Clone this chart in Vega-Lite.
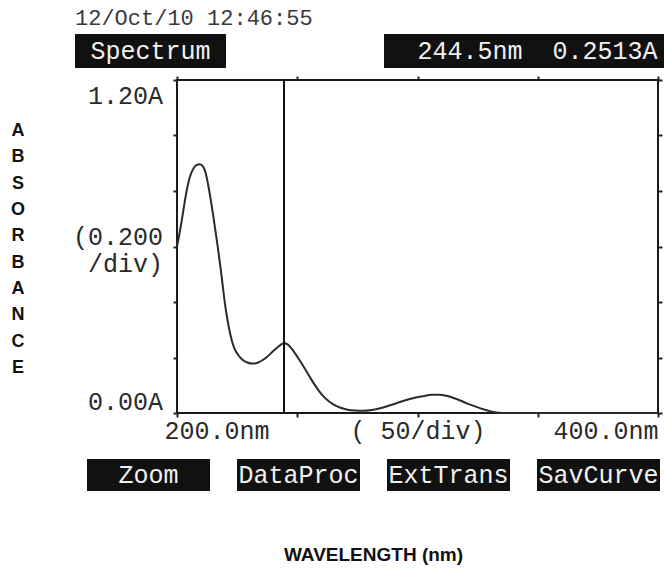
{
  "$schema": "https://vega.github.io/schema/vega-lite/v6.json",
  "background": "white",
  "padding": {"left": 8, "top": 7, "right": 0, "bottom": 0},
  "config": {"font": "Liberation Mono"},
  "datasets": {
    "spectrum": [
      {"wl": 200, "abs": 0.60}, {"wl": 201, "abs": 0.645}, {"wl": 202, "abs": 0.695}, {"wl": 203, "abs": 0.75},
      {"wl": 204, "abs": 0.80}, {"wl": 205, "abs": 0.84}, {"wl": 206, "abs": 0.866}, {"wl": 207, "abs": 0.883},
      {"wl": 208, "abs": 0.893}, {"wl": 209.5, "abs": 0.896}, {"wl": 211, "abs": 0.886}, {"wl": 212, "abs": 0.862},
      {"wl": 213, "abs": 0.82}, {"wl": 214, "abs": 0.77}, {"wl": 215, "abs": 0.715}, {"wl": 216, "abs": 0.655},
      {"wl": 217, "abs": 0.595}, {"wl": 218, "abs": 0.53}, {"wl": 219, "abs": 0.46}, {"wl": 220, "abs": 0.39},
      {"wl": 221, "abs": 0.335}, {"wl": 222, "abs": 0.29}, {"wl": 223, "abs": 0.255}, {"wl": 224, "abs": 0.23},
      {"wl": 225.5, "abs": 0.208}, {"wl": 227.5, "abs": 0.19}, {"wl": 229.5, "abs": 0.181}, {"wl": 231.5, "abs": 0.178},
      {"wl": 233.5, "abs": 0.181}, {"wl": 235.5, "abs": 0.19}, {"wl": 237.5, "abs": 0.203}, {"wl": 239.5, "abs": 0.219},
      {"wl": 241.5, "abs": 0.234}, {"wl": 243, "abs": 0.245}, {"wl": 244.5, "abs": 0.2513}, {"wl": 246, "abs": 0.247},
      {"wl": 247.5, "abs": 0.234}, {"wl": 249, "abs": 0.216}, {"wl": 251, "abs": 0.19}, {"wl": 253, "abs": 0.162},
      {"wl": 255, "abs": 0.133}, {"wl": 257, "abs": 0.105}, {"wl": 259, "abs": 0.08}, {"wl": 261, "abs": 0.059},
      {"wl": 263, "abs": 0.043}, {"wl": 265, "abs": 0.031}, {"wl": 268, "abs": 0.019}, {"wl": 271, "abs": 0.012},
      {"wl": 274, "abs": 0.009}, {"wl": 277.5, "abs": 0.008}, {"wl": 281, "abs": 0.011}, {"wl": 284.5, "abs": 0.017},
      {"wl": 288, "abs": 0.026}, {"wl": 291.5, "abs": 0.036}, {"wl": 295, "abs": 0.046}, {"wl": 298.5, "abs": 0.054},
      {"wl": 302, "abs": 0.06}, {"wl": 306, "abs": 0.066}, {"wl": 309, "abs": 0.066}, {"wl": 312, "abs": 0.062},
      {"wl": 315, "abs": 0.054}, {"wl": 318, "abs": 0.044}, {"wl": 321, "abs": 0.033}, {"wl": 324.5, "abs": 0.022},
      {"wl": 328, "abs": 0.012}, {"wl": 331, "abs": 0.005}, {"wl": 334, "abs": 0.001}, {"wl": 337, "abs": 0},
      {"wl": 350, "abs": 0}, {"wl": 375, "abs": 0}, {"wl": 400, "abs": 0}
    ],
    "cursor": [{"wl": 244.5, "abs": 0.2513, "reading": "244.5nm\u00a0\u00a00.2513A"}],
    "ylabels": [
      {"v": 1.2, "label": "1.20A"},
      {"v": 0.6, "label": ["(0.200", "/div)"]},
      {"v": 0, "label": "0.00A"}
    ],
    "letters": [
      {"i": 0, "ch": "A"}, {"i": 1, "ch": "B"}, {"i": 2, "ch": "S"}, {"i": 3, "ch": "O"}, {"i": 4, "ch": "R"},
      {"i": 5, "ch": "B"}, {"i": 6, "ch": "A"}, {"i": 7, "ch": "N"}, {"i": 8, "ch": "C"}, {"i": 9, "ch": "E"}
    ],
    "keys": [{"key": "Zoom"}, {"key": "DataProc"}, {"key": "ExtTrans"}, {"key": "SavCurve"}]
  },
  "spacing": 44,
  "hconcat": [
    {
      "width": 20,
      "height": 431,
      "data": {"name": "letters"},
      "view": {"stroke": null},
      "mark": {"type": "text", "font": "Liberation Sans", "fontWeight": "bold", "fontSize": 18, "color": "#111"},
      "encoding": {
        "y": {"field": "i", "type": "quantitative", "scale": {"domain": [-3.684, 12.684], "reverse": true, "nice": false, "zero": false}, "axis": null},
        "text": {"field": "ch"}
      }
    },
    {
      "spacing": 6,
      "vconcat": [
        {
          "title": {"text": "12/Oct/10 12:46:55", "anchor": "start", "font": "Liberation Mono", "fontSize": 22, "fontWeight": "normal", "color": "#3a3a3a", "offset": 4},
          "spacing": 158,
          "hconcat": [
            {
              "width": 151,
              "height": 34,
              "view": {"fill": "#111", "stroke": null},
              "data": {"values": [{"mode": "Spectrum"}]},
              "mark": {"type": "text", "font": "Liberation Mono", "fontSize": 25, "color": "#f0f0f0"},
              "encoding": {"text": {"field": "mode"}}
            },
            {
              "width": 281,
              "height": 34,
              "view": {"fill": "#111", "stroke": null},
              "data": {"name": "cursor"},
              "mark": {"type": "text", "font": "Liberation Mono", "fontSize": 25, "color": "#f0f0f0", "dx": 13},
              "encoding": {"text": {"field": "reading"}}
            }
          ]
        },
        {
          "spacing": 15,
          "vconcat": [
            {
              "spacing": 0,
              "hconcat": [
                {
                  "width": 88,
                  "height": 333,
                  "view": {"stroke": null},
                  "data": {"name": "ylabels"},
                  "encoding": {
                    "y": {"field": "v", "type": "quantitative", "scale": {"domain": [0, 1.2], "nice": false, "zero": false}, "axis": null},
                    "text": {"field": "label"}
                  },
                  "layer": [
                    {"transform": [{"filter": "datum.v > 1.1"}], "mark": {"type": "text", "align": "right", "dx": 44, "dy": 16, "font": "Liberation Mono", "fontSize": 25, "color": "#2a2a2a"}},
                    {"transform": [{"filter": "datum.v > 0.5 && datum.v < 0.7"}], "mark": {"type": "text", "align": "right", "dx": 44, "dy": -10, "lineHeight": 27, "font": "Liberation Mono", "fontSize": 25, "color": "#2a2a2a"}},
                    {"transform": [{"filter": "datum.v < 0.1"}], "mark": {"type": "text", "align": "right", "dx": 44, "dy": -11, "font": "Liberation Mono", "fontSize": 25, "color": "#2a2a2a"}}
                  ]
                },
                {
                  "width": 481,
                  "height": 333,
                  "view": {"stroke": "#1a1a1a", "strokeWidth": 2},
                  "layer": [
                    {
                      "data": {"name": "spectrum"},
                      "mark": {"type": "line", "color": "#2b2b2b", "strokeWidth": 2, "interpolate": "monotone"},
                      "encoding": {
                        "x": {
                          "field": "wl", "type": "quantitative",
                          "scale": {"domain": [200, 400], "nice": false, "zero": false},
                          "axis": {
                            "orient": "bottom", "values": [200, 250, 300, 350, 400], "domain": false, "grid": false,
                            "tickSize": 4, "tickWidth": 2, "tickColor": "#222",
                            "labelExpr": "datum.value == 200 ? '200.0nm' : datum.value == 300 ? '( 50/div)' : datum.value == 400 ? '400.0nm' : ''",
                            "labelFont": "Liberation Mono", "labelFontSize": 25, "labelColor": "#2a2a2a", "labelPadding": 1,
                            "labelFlush": false, "labelOverlap": false, "labelBound": false,
                            "labelAlign": {"condition": [{"test": "datum.value == 200", "value": "left"}, {"test": "datum.value == 400", "value": "right"}], "value": "center"},
                            "labelOffset": {"condition": {"test": "datum.value == 200", "value": -13}, "value": 0},
                            "title": null
                          }
                        },
                        "y": {
                          "field": "abs", "type": "quantitative",
                          "scale": {"domain": [0, 1.2], "nice": false, "zero": false},
                          "axis": {
                            "orient": "left", "values": [0, 0.2, 0.4, 0.6, 0.8, 1, 1.2], "domain": false, "grid": false,
                            "labels": false, "tickSize": 4, "tickWidth": 2, "tickColor": "#222", "title": null
                          }
                        }
                      }
                    },
                    {
                      "data": {"name": "cursor"},
                      "mark": {"type": "rule", "color": "#111", "strokeWidth": 2},
                      "encoding": {
                        "x": {
                          "field": "wl", "type": "quantitative",
                          "axis": {"orient": "top", "values": [200, 250, 300, 350, 400], "domain": false, "grid": false, "labels": false, "tickSize": 4, "tickWidth": 2, "tickColor": "#222", "title": null}
                        },
                        "y": {
                          "datum": 0, "type": "quantitative",
                          "axis": {"orient": "right", "values": [0, 0.2, 0.4, 0.6, 0.8, 1, 1.2], "domain": false, "grid": false, "labels": false, "tickSize": 4, "tickWidth": 2, "tickColor": "#222", "title": null}
                        },
                        "y2": {"datum": 1.2}
                      }
                    }
                  ],
                  "resolve": {"axis": {"x": "independent", "y": "independent"}}
                }
              ]
            },
            {
              "width": 585,
              "height": 32,
              "view": {"stroke": null},
              "data": {"name": "keys"},
              "title": {"text": "WAVELENGTH (nm)", "orient": "bottom", "anchor": "middle", "offset": 55, "dx": 6, "font": "Liberation Sans", "fontSize": 19, "fontWeight": "bold", "color": "#111"},
              "encoding": {
                "x": {"field": "key", "type": "nominal", "sort": null, "scale": {"paddingInner": 0.18, "paddingOuter": 0.04, "align": 1}, "axis": null}
              },
              "layer": [
                {"mark": {"type": "rect", "color": "#111"}},
                {"mark": {"type": "text", "color": "#f0f0f0", "font": "Liberation Mono", "fontSize": 25}, "encoding": {"text": {"field": "key"}}}
              ]
            }
          ]
        }
      ]
    }
  ]
}
